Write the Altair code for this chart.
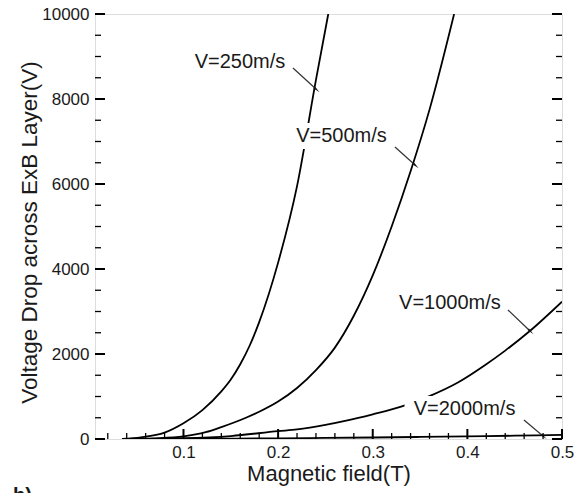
import math
import altair as alt
import pandas as pd

# ---- data ----
B_250 = [0.035, 0.055, 0.08, 0.10, 0.12, 0.14, 0.15, 0.16, 0.17, 0.18, 0.20, 0.22, 0.24, 0.253]
V_250 = [0, 40, 150, 370, 680, 1120, 1400, 1760, 2200, 2750, 4150, 5950, 8450, 10000]

B_500 = [0.04, 0.07, 0.10, 0.1235, 0.14, 0.166, 0.18, 0.20, 0.22, 0.24, 0.26, 0.28, 0.30, 0.32, 0.34, 0.36, 0.386]
V_500 = [0, 15, 60, 160, 280, 500, 640, 880, 1200, 1620, 2150, 2900, 3850, 5000, 6300, 7750, 10000]

B_1000 = [0.04, 0.10, 0.15, 0.20, 0.22, 0.25, 0.272, 0.30, 0.33, 0.36, 0.39, 0.42, 0.44, 0.466, 0.50]
V_1000 = [0, 18, 70, 185, 225, 330, 430, 580, 760, 1010, 1330, 1760, 2080, 2540, 3230]

B_2000 = [0.05, 0.10, 0.15, 0.20, 0.25, 0.30, 0.35, 0.40, 0.45, 0.50]
V_2000 = [0, 4, 8, 15, 25, 35, 48, 62, 78, 95]

series_names = ["V=250m/s", "V=500m/s", "V=1000m/s", "V=2000m/s"]

# curve label positions (data units), label background widths (px), arrows
label_x = [0.1597, 0.267, 0.3816, 0.397]
label_y = [8871, 7129, 3200, 706]
label_box_w = [102, 102, 112, 120]
label_box_h = 26
arrow_x1 = [0.2157, 0.3235, 0.4429, 0.4598]
arrow_y1 = [8729, 6871, 3035, 447]
arrow_x2 = [0.2400, 0.3447, 0.4662, 0.4799]
arrow_y2 = [8235, 6447, 2541, 71]

x_labels = [0.1, 0.2, 0.3, 0.4, 0.5]
x_minor = [0.02, 0.04, 0.06, 0.08, 0.12, 0.14, 0.16, 0.18, 0.22, 0.24, 0.26, 0.28,
           0.32, 0.34, 0.36, 0.38, 0.42, 0.44, 0.46, 0.48]
y_labels = [0, 2000, 4000, 6000, 8000, 10000]
y_minor = [500, 1000, 1500, 2500, 3000, 3500, 4500, 5000, 5500,
           6500, 7000, 7500, 8500, 9000, 9500]

XMIN, XMAX = 0.0065, 0.5
YMIN, YMAX = 0, 10000
W, H = 467, 425

FONT = "Liberation Sans"
INK = "#1a1a1a"

# ---- tables ----
rows = []
for name, bs, vs in zip(series_names, [B_250, B_500, B_1000, B_2000], [V_250, V_500, V_1000, V_2000]):
    for b, v in zip(bs, vs):
        rows.append({"series": name, "B": b, "V": v})
curves = pd.DataFrame(rows)

px_per_x = W / (XMAX - XMIN)
px_per_y = H / (YMAX - YMIN)
angles = []
for a, b, c, d in zip(arrow_x1, arrow_y1, arrow_x2, arrow_y2):
    dx = (c - a) * px_per_x
    dy = -(d - b) * px_per_y
    angles.append(math.degrees(math.atan2(dx, -dy)) % 360)

labels = pd.DataFrame({
    "text": series_names, "x": label_x, "y": label_y,
    "bx1": [x - w / 2 / px_per_x for x, w in zip(label_x, label_box_w)],
    "bx2": [x + w / 2 / px_per_x for x, w in zip(label_x, label_box_w)],
    "by1": [y - label_box_h / 2 / px_per_y for y in label_y],
    "by2": [y + label_box_h / 2 / px_per_y for y in label_y],
})
arrows = pd.DataFrame({"x1": arrow_x1, "y1": arrow_y1, "x2": arrow_x2, "y2": arrow_y2, "angle": angles})

xs = alt.Scale(domain=[XMIN, XMAX], nice=False, zero=False)
ys = alt.Scale(domain=[YMIN, YMAX], nice=False, zero=False)

x_axis = alt.Axis(values=x_labels, format=".1f", ticks=False, domain=False, grid=False,
                  labelFont=FONT, labelFontSize=17, labelColor=INK, labelPadding=5,
                  labelFlush=False,
                  title="Magnetic field(T)", titleFont=FONT, titleFontSize=22,
                  titleFontWeight="normal", titleColor=INK, titlePadding=3)
y_axis = alt.Axis(values=y_labels, format="d", ticks=False, domain=False, grid=False,
                  labelFont=FONT, labelFontSize=17, labelColor=INK, labelPadding=6,
                  labelFlush=False,
                  title="Voltage Drop across ExB Layer(V)", titleFont=FONT, titleFontSize=22.5,
                  titleFontWeight="normal", titleColor=INK, titlePadding=0,
                  titleY=218, titleAlign="center")

lines = alt.Chart(curves).mark_line(color="black", strokeWidth=1.8, clip=True,
                                    interpolate="monotone").encode(
    x=alt.X("B:Q", scale=xs, axis=x_axis),
    y=alt.Y("V:Q", scale=ys, axis=y_axis),
    detail="series:N",
)

# white background behind each curve label (the curves pass behind them)
boxes = alt.Chart(labels).mark_rect(color="white").encode(
    x="bx1:Q", x2="bx2:Q", y="by1:Q", y2="by2:Q")

texts = alt.Chart(labels).mark_text(font=FONT, fontSize=20, color=INK, align="center",
                                    baseline="middle").encode(
    x="x:Q", y="y:Q", text="text:N")

arrow_lines = alt.Chart(arrows).mark_rule(color="#333333", strokeWidth=1.2).encode(
    x="x1:Q", y="y1:Q", x2="x2:Q", y2="y2:Q")
arrow_heads = alt.Chart(arrows).mark_point(shape="wedge", filled=True, size=70,
                                           color="#111111", opacity=1).encode(
    x="x2:Q", y="y2:Q", angle=alt.Angle("angle:Q", scale=None))

# inward ticks
def hticks(vals, xpos, off, width):
    df = pd.DataFrame({"v": vals})
    return alt.Chart(df).mark_rule(color="black", strokeWidth=width, x2Offset=off).encode(
        y="v:Q", x=alt.datum(xpos), x2=alt.datum(xpos))

def vticks(vals, off, width):
    df = pd.DataFrame({"v": vals})
    return alt.Chart(df).mark_rule(color="black", strokeWidth=width, y2Offset=off).encode(
        x="v:Q", y=alt.datum(YMIN), y2=alt.datum(YMIN))

ticks = [
    hticks(y_labels, XMIN, 10, 2),
    hticks(y_minor, XMIN, 6, 1.3),
    hticks(y_labels, XMAX, -10, 2),
    hticks(y_minor, XMAX, -6, 1.3),
    vticks(x_labels, -10, 2),
    vticks(x_minor, -6, 1.3),
]

blabel = alt.Chart(pd.DataFrame({"t": ["b)"]})).mark_text(
    font=FONT, fontSize=20, fontWeight="bold", color=INK, align="left", baseline="top").encode(
    x=alt.value(-82), y=alt.value(472), text="t:N")

chart = alt.layer(lines, boxes, texts, arrow_lines, arrow_heads, *ticks, blabel).properties(
    width=W, height=H,
    autosize=alt.AutoSizeParams(type="none"),
    padding={"left": 95, "top": 14, "right": 23, "bottom": 54},
).configure_view(stroke="black", strokeWidth=2).configure(background="white")

chart.save("out.html", embed_options={"renderer": "svg", "actions": False})
